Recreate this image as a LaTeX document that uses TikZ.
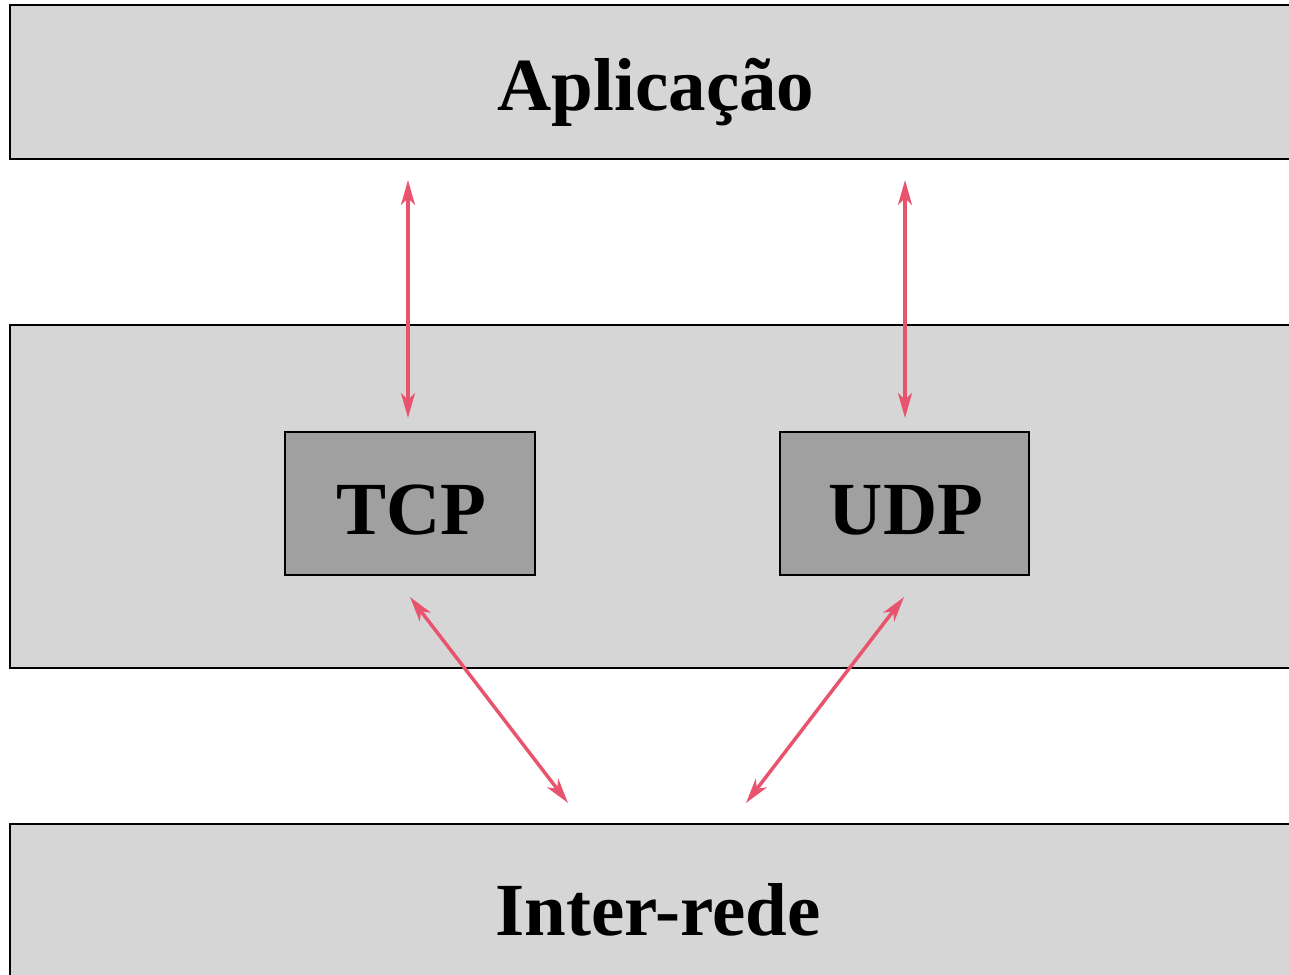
\documentclass[tikz,border=0pt]{standalone}
\usepackage{fontspec}
\setmainfont{Liberation Serif}
\usetikzlibrary{arrows.meta}
\definecolor{lightbg}{HTML}{D6D6D6}
\definecolor{darkbg}{HTML}{A0A0A0}
\definecolor{arrowred}{HTML}{E8546E}
\begin{document}
\begin{tikzpicture}[x=1pt,y=-1pt,
  layer/.style={draw=black,line width=2.5pt,fill=lightbg},
  proto/.style={draw=black,line width=2pt,fill=darkbg},
  lbl/.style={font=\fontsize{75}{80}\selectfont\bfseries,inner sep=0pt},
  link/.style={draw=arrowred,line width=3.5pt,{Stealth[length=25pt,width=14pt,inset=7pt]}-{Stealth[length=25pt,width=14pt,inset=7pt]}}]
\useasboundingbox (0,0) rectangle (1289,974);
\clip (0,0) rectangle (1289,974);
\draw[layer] (10,5) rectangle (1320,159);
\draw[layer] (10,325) rectangle (1320,668);
\draw[layer] (10,824) rectangle (1320,1000);
\draw[proto] (285,432) rectangle (535,575);
\draw[proto] (780,432) rectangle (1029,575);
\node[lbl] (app) at (656,92) {Aplicação};
\node[lbl] (tcp) at (411,510) {TCP};
\node[lbl] (udp) at (906,510) {UDP};
\node[lbl] (inet) at (658,910) {Inter-rede};
\coordinate (a1) at (408,180);
\coordinate (a2) at (408,418);
\coordinate (b1) at (905,180);
\coordinate (b2) at (905,418);
\coordinate (c1) at (410,597);
\coordinate (c2) at (568,803);
\coordinate (d1) at (904,597);
\coordinate (d2) at (746,803);
\draw[link] (a1) -- (a2);
\draw[link] (b1) -- (b2);
\draw[link] (c1) -- (c2);
\draw[link] (d1) -- (d2);
\end{tikzpicture}
\end{document}
